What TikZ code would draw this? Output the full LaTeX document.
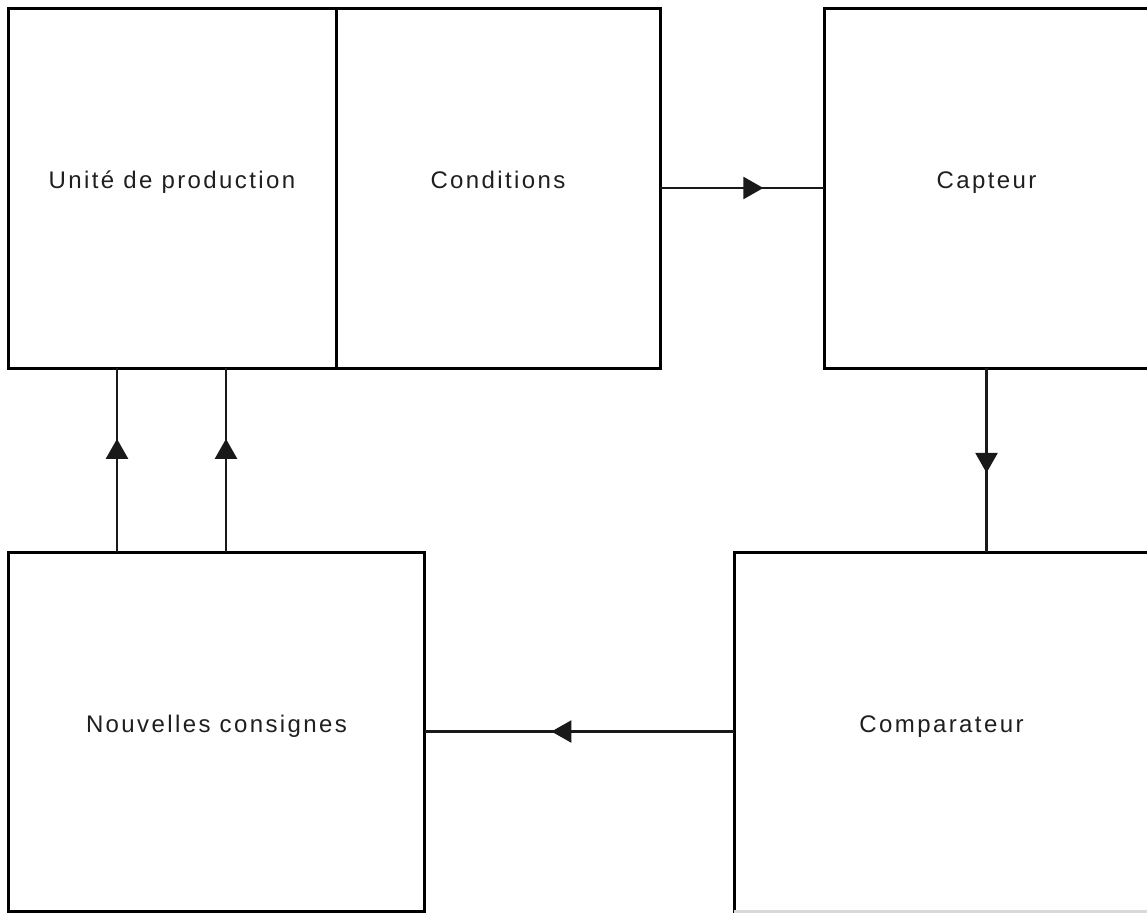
\documentclass[tikz,border=0pt]{standalone}
\usepackage{fontspec}
\setmainfont{Liberation Sans}[LetterSpace=10]
\usetikzlibrary{arrows.meta,decorations.markings}
\tikzset{
  box/.style={draw=black,line width=3pt,inner sep=0pt,outer sep=0pt,rectangle},
  lbl/.style={anchor=base,inner sep=0pt,font=\fontsize{24pt}{28pt}\selectfont,text=black!88},
  conn/.style={line width=2.5pt,draw=black!90},
  mid/.style={postaction={decorate},decoration={markings,
      mark=at position #1 with {\arrow{Triangle[length=20pt,width=22pt]}}}}
}
\begin{document}
\begin{tikzpicture}[x=1pt,y=-1pt]
\useasboundingbox (0,0) rectangle (1147,913);
\fill[white] (0,0) rectangle (1147,913);
% boxes
\node[box,minimum width=328pt,minimum height=360pt] (unite) at (172,188) {};
\node[box,minimum width=324pt,minimum height=360pt] (cond) at (498,188) {};
\node[box,minimum width=325pt,minimum height=360pt] (capt) at (986.5,188) {};
\node[box,minimum width=416pt,minimum height=359pt] (nouv) at (216.5,731.5) {};
\node[box,draw=none,minimum width=415pt,minimum height=359pt] (comp) at (941.5,731.5) {};
\draw[line width=3pt,line cap=rect] (comp.south west) -- (comp.north west) -- (comp.north east) -- (comp.south east);
\draw[line width=3pt,draw=black!15] (comp.south west) -- (comp.south east);
% labels
\node[lbl] (tunite) at (unite.center) {Unité de production};
\node[lbl] (tcond) at (cond.center) {Conditions};
\node[lbl] (tcapt) at (capt.center) {Capteur};
\node[lbl] (tnouv) at ([yshift=-1pt]nouv.center) {Nouvelles consignes};
\node[lbl] (tcomp) at ([yshift=-1pt]comp.center) {Comparateur};
% connectors
\draw[conn,mid=0.63] (cond.east) -- (capt.west);
\draw[conn,mid=0.57] (capt.south) -- (capt.south |- comp.north);
\draw[conn,mid=0.59] (comp.west) -- (nouv.east);
\coordinate (u1) at (117,368);
\coordinate (u2) at (226,368);
\draw[conn,mid=0.615] (u1 |- nouv.north) -- (u1);
\draw[conn,mid=0.615] (u2 |- nouv.north) -- (u2);
\end{tikzpicture}
\end{document}
